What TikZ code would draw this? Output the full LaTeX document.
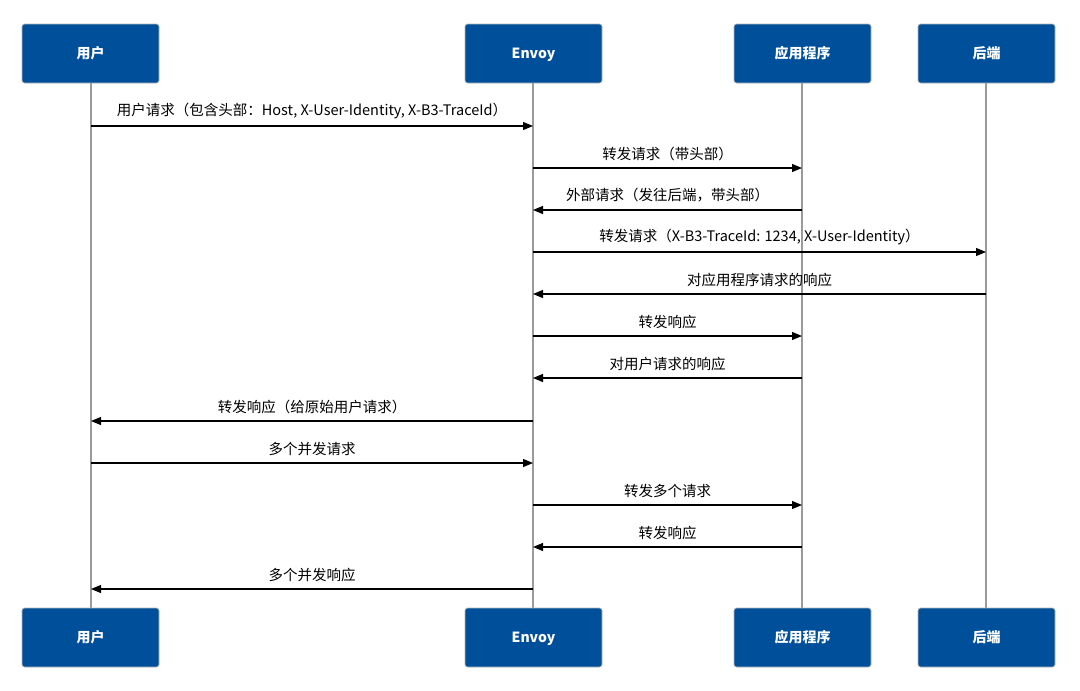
\documentclass[tikz,border=0pt]{standalone}
\usepackage{fontspec}
\setmainfont{Noto Sans CJK SC}
\usetikzlibrary{arrows.meta}
\definecolor{boxblue}{HTML}{004F9B}
\definecolor{lifegrey}{HTML}{9A9A9A}
\tikzset{
  actor/.style={draw=lifegrey!70, line width=0.8pt, fill=boxblue, rounded corners=2.5pt,
    minimum width=137pt, minimum height=59pt, inner sep=0pt, text=white,
    font=\fontsize{14}{16}\selectfont\bfseries},
  acttext/.style={text=white, inner sep=0pt, font=\fontsize{14}{16}\selectfont\bfseries},
  life/.style={draw=lifegrey, line width=1.7pt},
  msg/.style={draw=black, line width=1.1pt, -{Triangle[length=10pt,width=8pt]}},
  lbl/.style={font=\fontsize{14.5}{17}\selectfont, text=black, inner sep=0pt, anchor=base}
}
\begin{document}
\begin{tikzpicture}[x=1pt,y=-1pt]
\path[fill=white] (0,0) rectangle (1080,691);
\useasboundingbox (0,0) rectangle (1080,691);
% lifelines first
\coordinate (uT) at (91,83); \coordinate (uB) at (91,608);
\coordinate (eT) at (533,83); \coordinate (eB) at (533,608);
\coordinate (aT) at (802,83); \coordinate (aB) at (802,608);
\coordinate (bT) at (986,83); \coordinate (bB) at (986,608);
\draw[life] (uT) -- (uB);
\draw[life] (eT) -- (eB);
\draw[life] (aT) -- (aB);
\draw[life] (bT) -- (bB);
% actors
\node[actor] (u1) at (90.5,53.5) {};
\node[actor] (e1) at (533.5,53.5) {};
\node[actor] (a1) at (802.5,53.5) {};
\node[actor] (b1) at (986.5,53.5) {};
\node[actor] (u2) at (90.5,637.5) {};
\node[actor] (e2) at (533.5,637.5) {};
\node[actor] (a2) at (802.5,637.5) {};
\node[actor] (b2) at (986.5,637.5) {};
\foreach \b/\t in {u1/用户,e1/Envoy,a1/应用程序,b1/后端,u2/用户,e2/Envoy,a2/应用程序,b2/后端}{
  \node[acttext, anchor=base] (\b t) at ([yshift=-5pt]\b.center) {\t};
}
% messages
\foreach \n/\y in {1/126,2/168,3/210,4/252,5/294,6/336,7/378,8/421,9/463,10/505,11/547,12/589}{
  \coordinate (u\n) at (91,\y);
  \coordinate (e\n) at (533,\y);
  \coordinate (a\n) at (802,\y);
  \coordinate (b\n) at (986,\y);
}
\draw[msg] (u1) -- node[lbl, above=7pt] {用户请求（包含头部：Host, X-User-Identity, X-B3-TraceId）} (e1);
\draw[msg] (e2) -- node[lbl, above=7pt] {转发请求（带头部）} (a2);
\draw[msg] (a3) -- node[lbl, above=7pt] {外部请求（发往后端，带头部）} (e3);
\draw[msg] (e4) -- node[lbl, above=7pt] {转发请求（X-B3-TraceId: 1234, X-User-Identity）} (b4);
\draw[msg] (b5) -- node[lbl, above=7pt] {对应用程序请求的响应} (e5);
\draw[msg] (e6) -- node[lbl, above=7pt] {转发响应} (a6);
\draw[msg] (a7) -- node[lbl, above=7pt] {对用户请求的响应} (e7);
\draw[msg] (e8) -- node[lbl, above=7pt] {转发响应（给原始用户请求）} (u8);
\draw[msg] (u9) -- node[lbl, above=7pt] {多个并发请求} (e9);
\draw[msg] (e10) -- node[lbl, above=7pt] {转发多个请求} (a10);
\draw[msg] (a11) -- node[lbl, above=7pt] {转发响应} (e11);
\draw[msg] (e12) -- node[lbl, above=7pt] {多个并发响应} (u12);
\end{tikzpicture}
\end{document}
